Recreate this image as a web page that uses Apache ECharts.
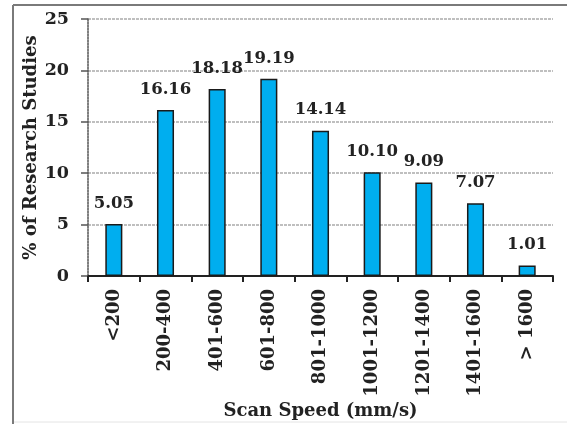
<!DOCTYPE html>
<html><head><meta charset="utf-8">
<script src="https://cdn.jsdelivr.net/npm/echarts@6/dist/echarts.min.js"></script>
<style>html,body{margin:0;padding:0;background:#fff}#c{width:567px;height:424px}</style>
</head><body><div id="c"></div>
<script>
const categories = ['<200','200-400','401-600','601-800','801-1000','1001-1200','1201-1400','1401-1600','> 1600'];
const values = [5.05, 16.16, 18.18, 19.19, 14.14, 10.10, 9.09, 7.07, 1.01];
const labels = ['5.05','16.16','18.18','19.19','14.14','10.10','9.09','7.07','1.01'];
const yTicks = [0, 5, 10, 15, 20, 25];

const F = 'DejaVu Serif';
const chart = echarts.init(document.getElementById('c'));
chart.setOption({
  animation: false,
  backgroundColor: '#fff',
  grid: {left: 88, right: 14, top: 19, bottom: 148, containLabel: false, outerBoundsMode: 'none'},
  graphic: [
    {type: 'line', shape: {x1: 13, y1: 5, x2: 567, y2: 5}, style: {stroke: '#7a7a7a', lineWidth: 2}},
    {type: 'line', shape: {x1: 13, y1: 5, x2: 13, y2: 424}, style: {stroke: '#7a7a7a', lineWidth: 2}},
    {type: 'line', shape: {x1: 14, y1: 422, x2: 567, y2: 422}, style: {stroke: '#e4e4e4', lineWidth: 1}}
  ],
  xAxis: {
    type: 'category', data: categories,
    axisLine: {lineStyle: {color: '#222', width: 2}},
    axisTick: {show: true, length: 6, lineStyle: {color: '#222', width: 2}},
    axisLabel: {rotate: 90, margin: 13, fontFamily: F, fontWeight: 'bold', fontSize: 18, color: '#222'},
    name: 'Scan Speed (mm/s)', nameLocation: 'middle', nameGap: 126, nameMoveOverlap: false,
    nameTextStyle: {fontFamily: F, fontWeight: 'bold', fontSize: 18, color: '#222'}
  },
  yAxis: {
    type: 'value', min: 0, max: 25, interval: 5,
    axisLine: {show: true, lineStyle: {color: '#555', width: 1.5, type: [2, 1]}},
    axisTick: {show: true, length: 7, inside: false, lineStyle: {color: '#555', width: 1.5}},
    splitLine: {show: true, lineStyle: {color: '#aaa', width: 1.5, type: [3, 1]}},
    axisLabel: {margin: 19, fontFamily: F, fontWeight: 'bold', fontSize: 17.5, color: '#222',
      formatter: v => yTicks.includes(v) ? String(v) : ''},
    name: '% of Research Studies', nameLocation: 'middle', nameGap: 48, nameRotate: 90, nameMoveOverlap: false,
    nameTextStyle: {fontFamily: F, fontWeight: 'bold', fontSize: 18, color: '#222'}
  },
  series: [{
    type: 'bar', data: values, barWidth: '33%',
    itemStyle: {color: '#00AEEF', borderColor: '#1a1a1a', borderWidth: 1.5},
    label: {show: true, position: 'top', distance: 12, fontFamily: F, fontWeight: 'bold', fontSize: 16.5, color: '#222',
      formatter: p => labels[p.dataIndex]}
  }]
});
</script></body></html>
